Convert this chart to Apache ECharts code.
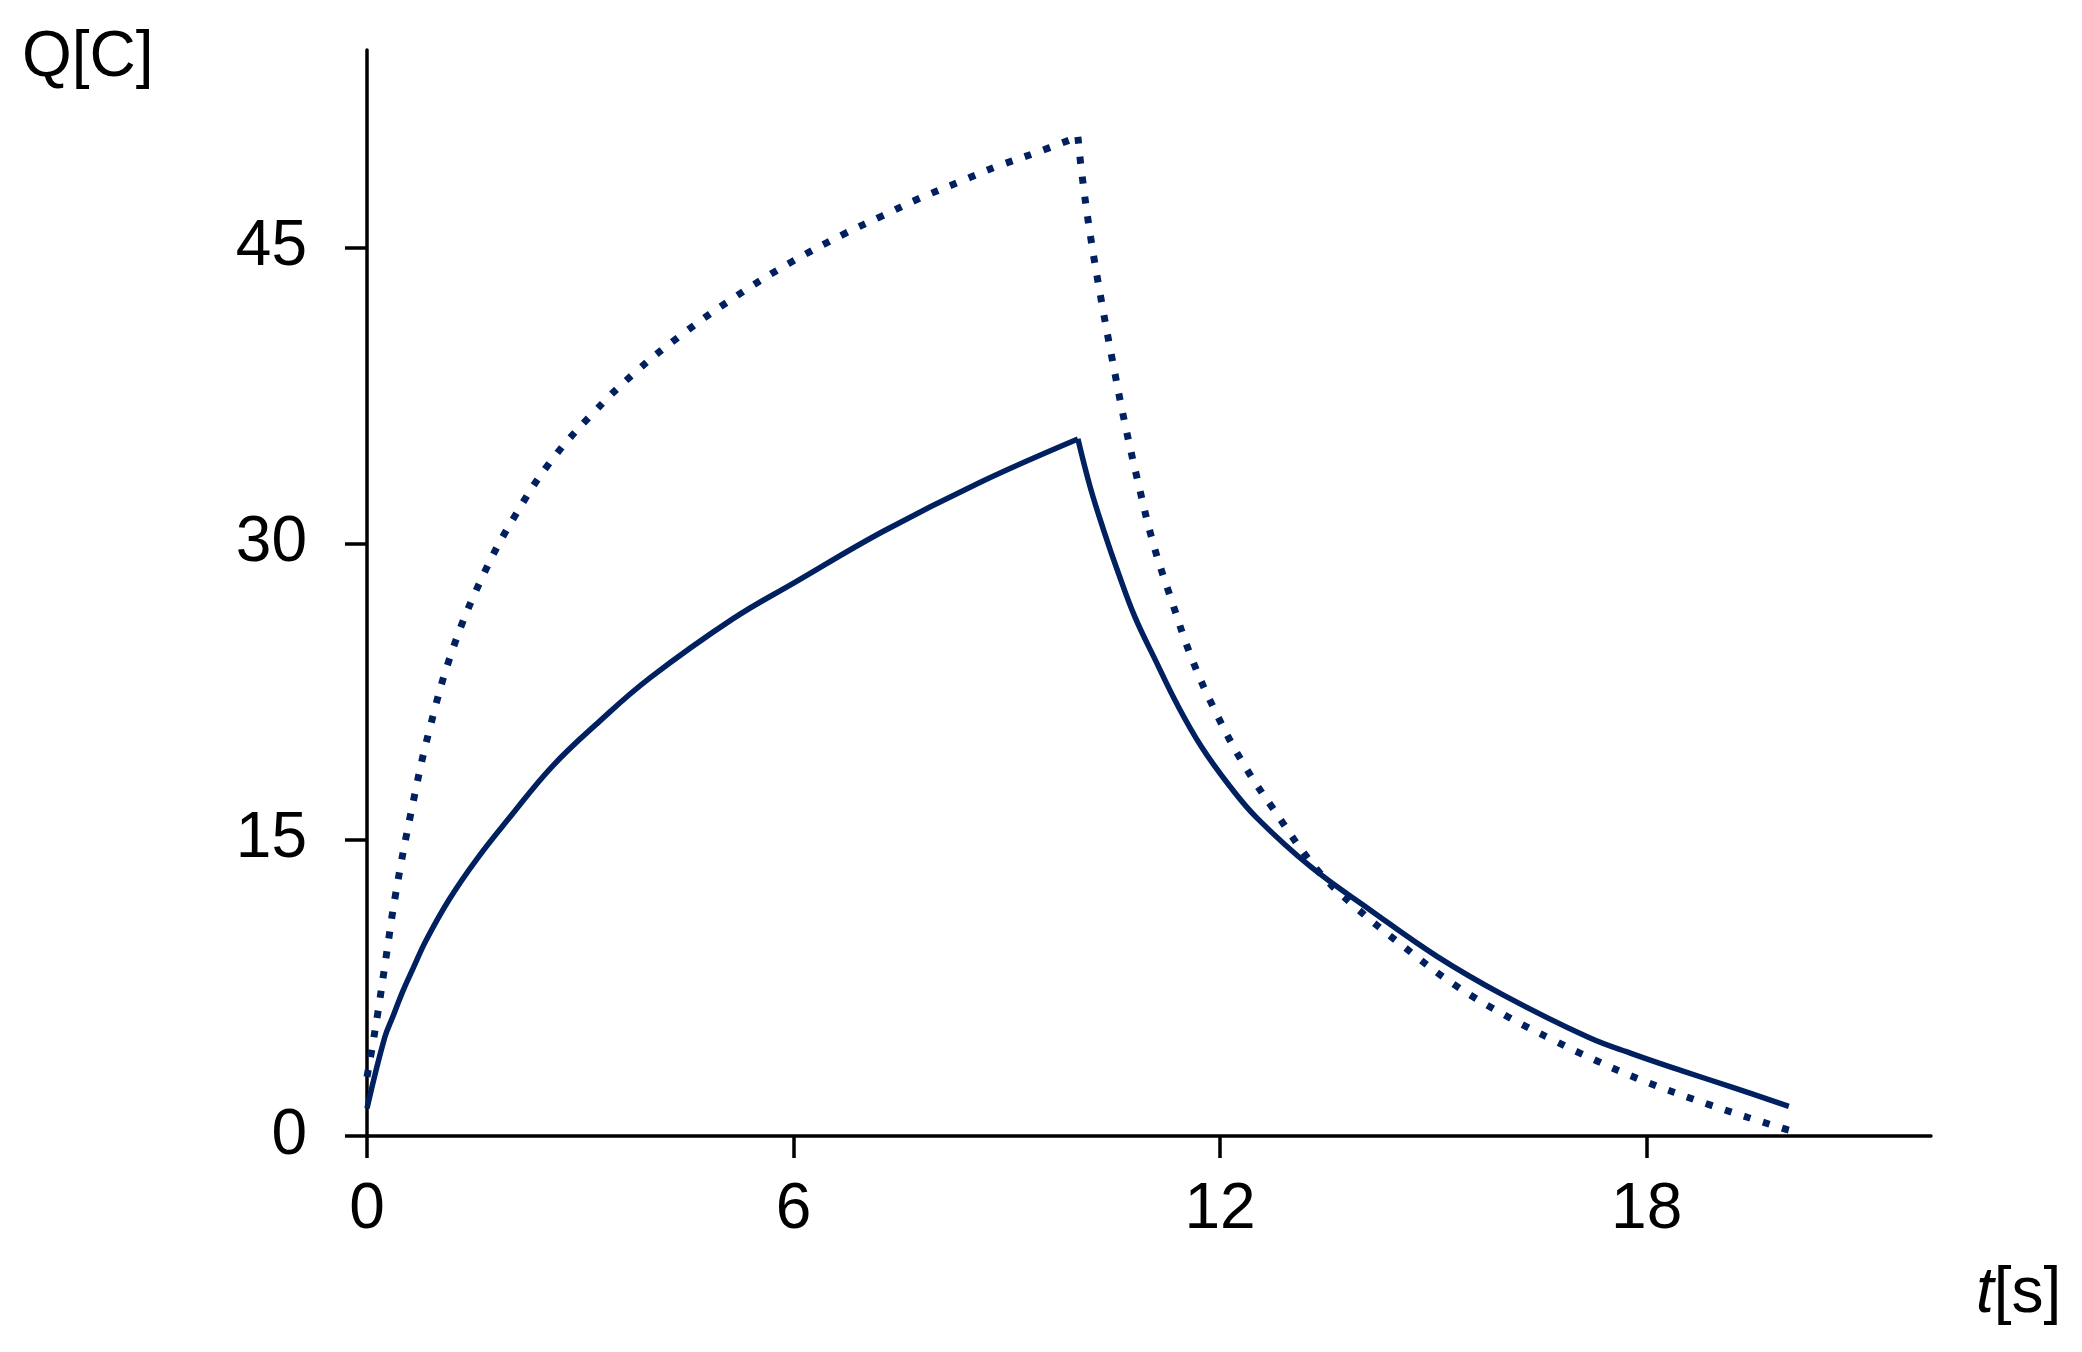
<!DOCTYPE html>
<html>
<head>
<meta charset="utf-8">
<script src="https://cdn.jsdelivr.net/npm/echarts@6/dist/echarts.min.js"></script>
<style>
html, body {margin: 0; padding: 0; background: #fff;}
#chart {width: 2082px; height: 1352px;}
</style>
</head>
<body>
<div id="chart"></div>
<script>
// 读图得到的数据 t[s], Q[C]
var tSolidUp = [0, 0.25, 0.37, 0.5, 0.65, 0.83, 1.16, 1.54, 2.0, 2.6, 3.27, 3.98, 5.15, 6.0, 7.25, 8.62, 10];
var qSolidUp = [1.4, 5.0, 6.1, 7.3, 8.5, 9.9, 12.0, 14.0, 16.1, 18.7, 21.0, 23.2, 26.2, 28.0, 30.6, 33.1, 35.3];
var tSolidDown = [10, 10.17, 10.36, 10.57, 10.8, 11.09, 11.39, 11.74, 12.14, 12.52, 13.27, 14.11, 15.05, 15.98, 17.18, 17.81, 18.5, 19.22, 20];
var qSolidDown = [35.3, 32.9, 30.7, 28.5, 26.3, 24.1, 21.9, 19.7, 17.7, 16.1, 13.65, 11.45, 9.1, 7.15, 5.0, 4.15, 3.3, 2.45, 1.5];

var tDotUp = [0, 0.05, 0.155, 0.27, 0.4, 0.62, 0.88, 1.22, 1.66, 2.08, 2.57, 3.15, 3.78, 4.47, 5.18, 5.94, 6.72, 7.25, 7.78, 8.32, 8.86, 9.41, 10];
var qDotUp = [3.0, 4.0, 6.3, 9.1, 12.2, 16.4, 20.6, 24.8, 28.6, 31.4, 34.1, 36.5, 38.7, 40.7, 42.5, 44.2, 45.7, 46.6, 47.5, 48.3, 49.1, 49.8, 50.6];
var tDotDown = [10, 10.06, 10.18, 10.33, 10.49, 10.66, 10.85, 11.06, 11.32, 11.6, 11.94, 12.32, 12.76, 13.35, 13.87, 14.58, 15.3, 16.09, 16.69, 17.09, 17.88, 18.91, 19.9, 20];
var qDotDown = [50.6, 48.6, 45.5, 42.3, 39.2, 36.1, 33.05, 30.0, 27.1, 24.2, 21.45, 18.9, 16.5, 13.55, 11.7, 9.6, 7.65, 5.95, 4.85, 4.15, 2.9, 1.55, 0.4, 0.3];

var xTicks = [0, 6, 12, 18];
var yTicks = [0, 15, 30, 45];

var lineColor = '#002060';
var fontName = 'Liberation Sans, Arial, sans-serif';

function pairs(xs, ys) {
	var arr = [];
	for (var i = 0; i < xs.length; i++) {
		arr.push([xs[i], ys[i]]);
	}
	return arr;
}

function solid(data) {
	return {
		type: 'line', data: data, showSymbol: false, smooth: 0.4,
		lineStyle: {color: lineColor, width: 5.5, join: 'miter'}
	};
}

function dotted(data) {
	return {
		type: 'line', data: data, showSymbol: false, smooth: 0.4,
		lineStyle: {color: lineColor, width: 7, type: [7, 13], cap: 'butt'}
	};
}

function axis(ticks, max, margin) {
	return {
		type: 'value',
		min: ticks[0], max: max, interval: ticks[1] - ticks[0],
		splitLine: {show: false},
		axisLine: {show: true, onZero: false, lineStyle: {color: '#000', width: 3.5}},
		axisTick: {show: true, length: 22, customValues: ticks, lineStyle: {color: '#000', width: 3.5}},
		axisLabel: {color: '#000', fontSize: 64, fontFamily: fontName, margin: margin, customValues: ticks}
	};
}

var option = {
	animation: false,
	backgroundColor: '#fff',
	grid: {left: 367, right: 151, top: 50, bottom: 216, containLabel: false},
	xAxis: axis(xTicks, 22, 42),
	yAxis: axis(yTicks, 55, 60),
	graphic: [
		{type: 'text', x: 22, y: 58, style: {text: 'Q[C]', font: '64px ' + fontName, fill: '#000', align: 'left', verticalAlign: 'middle'}},
		{
			type: 'text', x: 1976, y: 1294,
			style: {
				text: '{i|t}[s]', font: '64px ' + fontName, fill: '#000', align: 'left', verticalAlign: 'middle',
				rich: {i: {fontStyle: 'italic', fontSize: 64, fontFamily: fontName, fill: '#000'}}
			}
		}
	],
	series: [
		dotted(pairs(tDotUp, qDotUp)),
		dotted(pairs(tDotDown, qDotDown)),
		solid(pairs(tSolidUp, qSolidUp)),
		solid(pairs(tSolidDown, qSolidDown))
	]
};

var myChart = echarts.init(document.getElementById('chart'));
myChart.setOption(option);//加载图表
</script>
</body>
</html>
